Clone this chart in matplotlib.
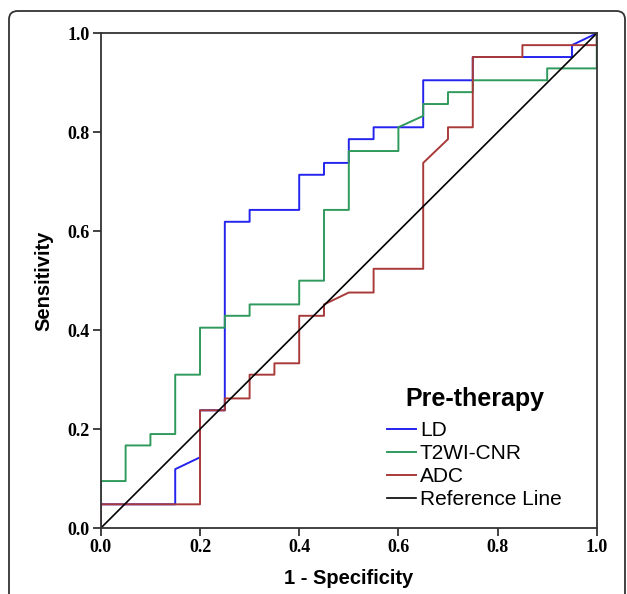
import matplotlib
matplotlib.use('Agg')
import matplotlib.pyplot as plt
from matplotlib.patches import FancyBboxPatch

# ROC steps (1 - specificity, sensitivity)
ld_fpr = [0, 0, 0.15, 0.15, 0.2, 0.2, 0.25, 0.25, 0.3, 0.3, 0.4, 0.4, 0.45, 0.45,
          0.5, 0.5, 0.55, 0.55, 0.65, 0.65, 0.75, 0.75, 0.95, 0.95, 1.0]
ld_tpr = [0, 0.048, 0.048, 0.119, 0.143, 0.238, 0.238, 0.619, 0.619, 0.643, 0.643, 0.714, 0.714, 0.738,
          0.738, 0.786, 0.786, 0.810, 0.810, 0.905, 0.905, 0.952, 0.952, 0.976, 1.0]

t2_fpr = [0, 0, 0.05, 0.05, 0.1, 0.1, 0.15, 0.15, 0.2, 0.2, 0.25, 0.25, 0.3, 0.3, 0.4, 0.4,
          0.45, 0.45, 0.5, 0.5, 0.6, 0.6, 0.65, 0.65, 0.7, 0.7, 0.75, 0.75, 0.9, 0.9, 1.0, 1.0]
t2_tpr = [0, 0.095, 0.095, 0.167, 0.167, 0.190, 0.190, 0.310, 0.310, 0.405, 0.405, 0.429, 0.429, 0.452, 0.452, 0.5,
          0.5, 0.643, 0.643, 0.762, 0.762, 0.810, 0.833, 0.857, 0.857, 0.881, 0.881, 0.905, 0.905, 0.929, 0.929, 1.0]

adc_fpr = [0, 0, 0.2, 0.2, 0.25, 0.25, 0.3, 0.3, 0.35, 0.35, 0.4, 0.4, 0.45, 0.45, 0.5,
           0.55, 0.55, 0.65, 0.65, 0.7, 0.7, 0.75, 0.75, 0.85, 0.85, 1.0, 1.0]
adc_tpr = [0, 0.048, 0.048, 0.238, 0.238, 0.262, 0.262, 0.310, 0.310, 0.333, 0.333, 0.429, 0.429, 0.452, 0.476,
           0.476, 0.524, 0.524, 0.738, 0.786, 0.810, 0.810, 0.952, 0.952, 0.976, 0.976, 1.0]

ref_x = [0, 1]
ref_y = [0, 1]

ticks = [0.0, 0.2, 0.4, 0.6, 0.8, 1.0]

fig = plt.figure(figsize=(6.27, 5.94), dpi=100)
ax = fig.add_axes([0.1608, 0.111, 0.791, 0.833])

ax.plot(ld_fpr, ld_tpr, color='#2424ee', lw=1.4, label='LD')
ax.plot(t2_fpr, t2_tpr, color='#2f9a5c', lw=1.4, label='T2WI-CNR')
ax.plot(adc_fpr, adc_tpr, color='#a93a3a', lw=1.4, label='ADC')
ax.plot(ref_x, ref_y, color='black', lw=1.2, label='Reference Line')

ax.set_xlim(0, 1)
ax.set_ylim(0, 1)
ax.set_xticks(ticks)
ax.set_yticks(ticks)
ax.set_xticklabels(['%.1f' % t for t in ticks], family='Liberation Serif', weight='bold', fontsize=13)
ax.set_yticklabels(['%.1f' % t for t in ticks], family='Liberation Serif', weight='bold', fontsize=13)
ax.tick_params(direction='out', length=6, width=1.2, color='#222222', pad=2)
for s in ax.spines.values():
    s.set_linewidth(1.3)
    s.set_color('#333333')

ax.set_xlabel('1 - Specificity', family='Liberation Sans', weight='bold', fontsize=14.5, labelpad=9)
ax.set_ylabel('Sensitivity', family='Liberation Sans', weight='bold', fontsize=14.5, labelpad=10)

leg = ax.legend(loc='upper left', bbox_to_anchor=(0.557, 0.306), frameon=False,
                title='Pre-therapy', handlelength=1.35, handletextpad=0.2,
                labelspacing=0.2, borderpad=0,
                prop={'family': 'Liberation Sans', 'size': 15},
                title_fontproperties={'family': 'Liberation Sans', 'weight': 'bold', 'size': 18})
leg._legend_box.sep = 7

# rounded frame around the whole panel
frame = FancyBboxPatch((9 / 627, -0.05), 616 / 627, 1 - 11 / 594 + 0.05,
                       boxstyle='round,pad=0,rounding_size=0.014',
                       transform=fig.transFigure, fill=False,
                       edgecolor='#333333', lw=1.3, clip_on=False)
fig.patches.append(frame)

fig.savefig('out.png', dpi=100)
